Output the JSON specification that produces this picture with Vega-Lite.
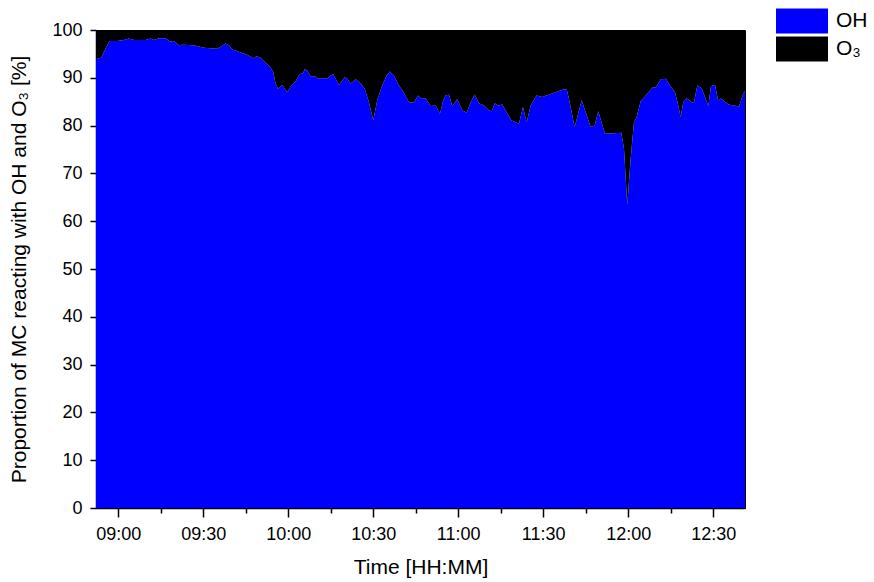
{
  "$schema": "https://vega.github.io/schema/vega-lite/v6.json",
  "width": 649,
  "height": 478,
  "autosize": {"type": "none"},
  "padding": {"left": 96, "top": 30, "right": 129, "bottom": 74},
  "background": "white",
  "config": {
    "view": {"stroke": "black", "strokeWidth": 1},
    "font": "Liberation Sans",
    "axis": {"labelFont": "Liberation Sans", "titleFont": "Liberation Sans", "titleFontWeight": "normal", "labelColor": "black", "titleColor": "black", "domainColor": "black", "tickColor": "black", "grid": false}
  },
  "data": {
    "values": [
      {"t": "2024-01-01T08:52:10", "OH": 94.0, "O3": 6.0},
      {"t": "2024-01-01T08:54:00", "OH": 94.2, "O3": 5.8},
      {"t": "2024-01-01T08:54:57", "OH": 95.4, "O3": 4.6},
      {"t": "2024-01-01T08:56:43", "OH": 97.5, "O3": 2.5},
      {"t": "2024-01-01T08:57:19", "OH": 97.7, "O3": 2.3},
      {"t": "2024-01-01T08:59:39", "OH": 97.7, "O3": 2.3},
      {"t": "2024-01-01T09:02:01", "OH": 97.9, "O3": 2.1},
      {"t": "2024-01-01T09:03:47", "OH": 98.2, "O3": 1.8},
      {"t": "2024-01-01T09:05:32", "OH": 97.9, "O3": 2.1},
      {"t": "2024-01-01T09:09:40", "OH": 97.9, "O3": 2.1},
      {"t": "2024-01-01T09:11:26", "OH": 98.2, "O3": 1.8},
      {"t": "2024-01-01T09:12:36", "OH": 97.9, "O3": 2.1},
      {"t": "2024-01-01T09:14:22", "OH": 98.3, "O3": 1.7},
      {"t": "2024-01-01T09:16:44", "OH": 98.3, "O3": 1.7},
      {"t": "2024-01-01T09:18:15", "OH": 97.6, "O3": 2.4},
      {"t": "2024-01-01T09:19:40", "OH": 97.7, "O3": 2.3},
      {"t": "2024-01-01T09:21:26", "OH": 96.8, "O3": 3.2},
      {"t": "2024-01-01T09:22:35", "OH": 96.9, "O3": 3.1},
      {"t": "2024-01-01T09:26:43", "OH": 96.8, "O3": 3.2},
      {"t": "2024-01-01T09:30:15", "OH": 96.3, "O3": 3.7},
      {"t": "2024-01-01T09:34:57", "OH": 96.1, "O3": 3.9},
      {"t": "2024-01-01T09:37:55", "OH": 97.2, "O3": 2.8},
      {"t": "2024-01-01T09:39:05", "OH": 96.8, "O3": 3.2},
      {"t": "2024-01-01T09:40:14", "OH": 95.9, "O3": 4.1},
      {"t": "2024-01-01T09:42:00", "OH": 95.6, "O3": 4.4},
      {"t": "2024-01-01T09:43:46", "OH": 95.2, "O3": 4.8},
      {"t": "2024-01-01T09:45:32", "OH": 94.8, "O3": 5.2},
      {"t": "2024-01-01T09:47:39", "OH": 94.1, "O3": 5.9},
      {"t": "2024-01-01T09:48:51", "OH": 94.5, "O3": 5.5},
      {"t": "2024-01-01T09:50:16", "OH": 94.2, "O3": 5.8},
      {"t": "2024-01-01T09:51:11", "OH": 93.6, "O3": 6.4},
      {"t": "2024-01-01T09:52:35", "OH": 92.9, "O3": 7.1},
      {"t": "2024-01-01T09:53:47", "OH": 92.1, "O3": 7.9},
      {"t": "2024-01-01T09:54:43", "OH": 91.2, "O3": 8.8},
      {"t": "2024-01-01T09:55:33", "OH": 88.8, "O3": 11.2},
      {"t": "2024-01-01T09:56:22", "OH": 87.7, "O3": 12.3},
      {"t": "2024-01-01T09:57:53", "OH": 88.5, "O3": 11.5},
      {"t": "2024-01-01T09:59:39", "OH": 87.0, "O3": 13.0},
      {"t": "2024-01-01T10:01:04", "OH": 88.4, "O3": 11.6},
      {"t": "2024-01-01T10:02:37", "OH": 89.2, "O3": 10.8},
      {"t": "2024-01-01T10:04:02", "OH": 90.8, "O3": 9.2},
      {"t": "2024-01-01T10:05:12", "OH": 90.9, "O3": 9.1},
      {"t": "2024-01-01T10:05:54", "OH": 91.9, "O3": 8.1},
      {"t": "2024-01-01T10:06:43", "OH": 91.5, "O3": 8.5},
      {"t": "2024-01-01T10:07:55", "OH": 90.3, "O3": 9.7},
      {"t": "2024-01-01T10:09:41", "OH": 90.3, "O3": 9.7},
      {"t": "2024-01-01T10:10:15", "OH": 89.9, "O3": 10.1},
      {"t": "2024-01-01T10:13:46", "OH": 89.9, "O3": 10.1},
      {"t": "2024-01-01T10:15:53", "OH": 90.8, "O3": 9.2},
      {"t": "2024-01-01T10:17:54", "OH": 88.5, "O3": 11.5},
      {"t": "2024-01-01T10:19:55", "OH": 90.1, "O3": 9.9},
      {"t": "2024-01-01T10:20:50", "OH": 89.8, "O3": 10.2},
      {"t": "2024-01-01T10:22:02", "OH": 88.8, "O3": 11.2},
      {"t": "2024-01-01T10:23:48", "OH": 89.7, "O3": 10.3},
      {"t": "2024-01-01T10:25:34", "OH": 88.8, "O3": 11.2},
      {"t": "2024-01-01T10:26:59", "OH": 87.7, "O3": 12.3},
      {"t": "2024-01-01T10:28:30", "OH": 84.9, "O3": 15.1},
      {"t": "2024-01-01T10:30:01", "OH": 81.1, "O3": 18.9},
      {"t": "2024-01-01T10:31:25", "OH": 85.3, "O3": 14.7},
      {"t": "2024-01-01T10:33:11", "OH": 88.4, "O3": 11.6},
      {"t": "2024-01-01T10:34:45", "OH": 90.5, "O3": 9.5},
      {"t": "2024-01-01T10:35:54", "OH": 91.3, "O3": 8.7},
      {"t": "2024-01-01T10:37:19", "OH": 90.5, "O3": 9.5},
      {"t": "2024-01-01T10:39:05", "OH": 88.4, "O3": 11.6},
      {"t": "2024-01-01T10:40:36", "OH": 87.1, "O3": 12.9},
      {"t": "2024-01-01T10:42:37", "OH": 84.9, "O3": 15.1},
      {"t": "2024-01-01T10:44:23", "OH": 84.8, "O3": 15.2},
      {"t": "2024-01-01T10:45:47", "OH": 86.3, "O3": 13.7},
      {"t": "2024-01-01T10:46:57", "OH": 85.7, "O3": 14.3},
      {"t": "2024-01-01T10:48:30", "OH": 85.7, "O3": 14.3},
      {"t": "2024-01-01T10:50:16", "OH": 84.1, "O3": 15.9},
      {"t": "2024-01-01T10:52:02", "OH": 84.2, "O3": 15.8},
      {"t": "2024-01-01T10:53:33", "OH": 82.5, "O3": 17.5},
      {"t": "2024-01-01T10:54:43", "OH": 85.3, "O3": 14.7},
      {"t": "2024-01-01T10:55:34", "OH": 86.3, "O3": 13.7},
      {"t": "2024-01-01T10:56:44", "OH": 86.5, "O3": 13.5},
      {"t": "2024-01-01T10:57:54", "OH": 84.1, "O3": 15.9},
      {"t": "2024-01-01T10:59:40", "OH": 85.5, "O3": 14.5},
      {"t": "2024-01-01T11:01:26", "OH": 83.2, "O3": 16.8},
      {"t": "2024-01-01T11:02:59", "OH": 82.7, "O3": 17.3},
      {"t": "2024-01-01T11:04:24", "OH": 84.9, "O3": 15.1},
      {"t": "2024-01-01T11:05:48", "OH": 86.5, "O3": 13.5},
      {"t": "2024-01-01T11:07:19", "OH": 84.7, "O3": 15.3},
      {"t": "2024-01-01T11:09:05", "OH": 84.2, "O3": 15.8},
      {"t": "2024-01-01T11:10:51", "OH": 83.2, "O3": 16.8},
      {"t": "2024-01-01T11:11:48", "OH": 83.0, "O3": 17.0},
      {"t": "2024-01-01T11:12:52", "OH": 84.7, "O3": 15.3},
      {"t": "2024-01-01T11:14:02", "OH": 84.2, "O3": 15.8},
      {"t": "2024-01-01T11:15:33", "OH": 84.4, "O3": 15.6},
      {"t": "2024-01-01T11:17:06", "OH": 82.8, "O3": 17.2},
      {"t": "2024-01-01T11:18:43", "OH": 81.1, "O3": 18.9},
      {"t": "2024-01-01T11:21:26", "OH": 80.4, "O3": 19.6},
      {"t": "2024-01-01T11:22:51", "OH": 83.9, "O3": 16.1},
      {"t": "2024-01-01T11:24:10", "OH": 80.7, "O3": 19.3},
      {"t": "2024-01-01T11:25:34", "OH": 84.2, "O3": 15.8},
      {"t": "2024-01-01T11:27:20", "OH": 86.0, "O3": 14.0},
      {"t": "2024-01-01T11:27:41", "OH": 86.3, "O3": 13.7},
      {"t": "2024-01-01T11:29:40", "OH": 86.0, "O3": 14.0},
      {"t": "2024-01-01T11:37:19", "OH": 87.6, "O3": 12.4},
      {"t": "2024-01-01T11:38:17", "OH": 87.6, "O3": 12.4},
      {"t": "2024-01-01T11:39:05", "OH": 85.6, "O3": 14.4},
      {"t": "2024-01-01T11:41:06", "OH": 79.7, "O3": 20.3},
      {"t": "2024-01-01T11:43:34", "OH": 85.3, "O3": 14.7},
      {"t": "2024-01-01T11:46:45", "OH": 79.7, "O3": 20.3},
      {"t": "2024-01-01T11:48:10", "OH": 80.0, "O3": 20.0},
      {"t": "2024-01-01T11:49:26", "OH": 83.0, "O3": 17.0},
      {"t": "2024-01-01T11:51:48", "OH": 78.3, "O3": 21.7},
      {"t": "2024-01-01T11:57:33", "OH": 78.5, "O3": 21.5},
      {"t": "2024-01-01T11:58:30", "OH": 75.2, "O3": 24.8},
      {"t": "2024-01-01T11:59:40", "OH": 63.5, "O3": 36.5},
      {"t": "2024-01-01T12:00:52", "OH": 73.1, "O3": 26.9},
      {"t": "2024-01-01T12:02:02", "OH": 80.7, "O3": 19.3},
      {"t": "2024-01-01T12:02:59", "OH": 81.8, "O3": 18.2},
      {"t": "2024-01-01T12:04:24", "OH": 85.1, "O3": 14.9},
      {"t": "2024-01-01T12:06:10", "OH": 86.3, "O3": 13.7},
      {"t": "2024-01-01T12:08:38", "OH": 88.0, "O3": 12.0},
      {"t": "2024-01-01T12:09:48", "OH": 88.0, "O3": 12.0},
      {"t": "2024-01-01T12:11:28", "OH": 89.7, "O3": 10.3},
      {"t": "2024-01-01T12:13:20", "OH": 89.8, "O3": 10.2},
      {"t": "2024-01-01T12:14:44", "OH": 88.4, "O3": 11.6},
      {"t": "2024-01-01T12:16:31", "OH": 87.0, "O3": 13.0},
      {"t": "2024-01-01T12:17:40", "OH": 84.2, "O3": 15.8},
      {"t": "2024-01-01T12:18:31", "OH": 81.8, "O3": 18.2},
      {"t": "2024-01-01T12:19:26", "OH": 84.9, "O3": 15.1},
      {"t": "2024-01-01T12:20:38", "OH": 85.7, "O3": 14.3},
      {"t": "2024-01-01T12:22:24", "OH": 84.9, "O3": 15.1},
      {"t": "2024-01-01T12:23:13", "OH": 84.9, "O3": 15.1},
      {"t": "2024-01-01T12:24:23", "OH": 88.4, "O3": 11.6},
      {"t": "2024-01-01T12:25:56", "OH": 87.8, "O3": 12.2},
      {"t": "2024-01-01T12:27:06", "OH": 86.0, "O3": 14.0},
      {"t": "2024-01-01T12:28:16", "OH": 84.1, "O3": 15.9},
      {"t": "2024-01-01T12:29:13", "OH": 88.3, "O3": 11.7},
      {"t": "2024-01-01T12:30:38", "OH": 88.5, "O3": 11.5},
      {"t": "2024-01-01T12:31:47", "OH": 85.1, "O3": 14.9},
      {"t": "2024-01-01T12:32:38", "OH": 85.7, "O3": 14.3},
      {"t": "2024-01-01T12:35:19", "OH": 84.4, "O3": 15.6},
      {"t": "2024-01-01T12:37:26", "OH": 84.2, "O3": 15.8},
      {"t": "2024-01-01T12:39:06", "OH": 84.0, "O3": 16.0},
      {"t": "2024-01-01T12:40:37", "OH": 86.7, "O3": 13.3},
      {"t": "2024-01-01T12:41:13", "OH": 87.2, "O3": 12.8}
    ]
  },
  "transform": [{"fold": ["OH", "O3"], "as": ["species", "value"]}],
  "mark": {"type": "area", "interpolate": "linear", "strokeWidth": 0},
  "encoding": {
    "x": {
      "field": "t",
      "type": "temporal",
      "scale": {"domain": [{"year": 2024, "month": 1, "date": 1, "hours": 8, "minutes": 52, "seconds": 10}, {"year": 2024, "month": 1, "date": 1, "hours": 12, "minutes": 41, "seconds": 13}], "nice": false},
      "axis": {
        "title": "Time [HH:MM]",
        "titleFontSize": 21,
        "titlePadding": 13,
        "labelFontSize": 18,
        "labelPadding": 8,
        "labelFlush": false,
        "labelOverlap": false,
        "values": [
          {"year": 2024, "month": 1, "date": 1, "hours": 9, "minutes": 0},
          {"year": 2024, "month": 1, "date": 1, "hours": 9, "minutes": 15},
          {"year": 2024, "month": 1, "date": 1, "hours": 9, "minutes": 30},
          {"year": 2024, "month": 1, "date": 1, "hours": 9, "minutes": 45},
          {"year": 2024, "month": 1, "date": 1, "hours": 10, "minutes": 0},
          {"year": 2024, "month": 1, "date": 1, "hours": 10, "minutes": 15},
          {"year": 2024, "month": 1, "date": 1, "hours": 10, "minutes": 30},
          {"year": 2024, "month": 1, "date": 1, "hours": 10, "minutes": 45},
          {"year": 2024, "month": 1, "date": 1, "hours": 11, "minutes": 0},
          {"year": 2024, "month": 1, "date": 1, "hours": 11, "minutes": 15},
          {"year": 2024, "month": 1, "date": 1, "hours": 11, "minutes": 30},
          {"year": 2024, "month": 1, "date": 1, "hours": 11, "minutes": 45},
          {"year": 2024, "month": 1, "date": 1, "hours": 12, "minutes": 0},
          {"year": 2024, "month": 1, "date": 1, "hours": 12, "minutes": 15},
          {"year": 2024, "month": 1, "date": 1, "hours": 12, "minutes": 30}
        ],
        "labelExpr": "minutes(datum.value) % 30 == 0 ? timeFormat(datum.value, '%H:%M') : ''",
        "tickSize": {"condition": {"test": "minutes(datum.value) % 30 == 0", "value": 9}, "value": 5},
        "tickWidth": 1.5,
        "domainWidth": 1.5
      }
    },
    "y": {
      "field": "value",
      "type": "quantitative",
      "stack": "zero",
      "scale": {"domain": [0, 100], "nice": false},
      "axis": {
        "title": "Proportion of MC reacting with OH and O₃ [%]",
        "titleFontSize": 21,
        "titlePadding": 22,
        "labelFontSize": 18,
        "labelPadding": 8,
        "values": [0, 10, 20, 30, 40, 50, 60, 70, 80, 90, 100],
        "tickSize": 6,
        "tickWidth": 1.5,
        "domainWidth": 1.5
      }
    },
    "color": {
      "field": "species",
      "type": "nominal",
      "scale": {"domain": ["OH", "O3"], "range": ["#0000ff", "#000000"]},
      "legend": {
        "title": null,
        "orient": "none",
        "legendX": 693,
        "legendY": -22,
        "symbolType": "M-2,-0.96H2V0.96H-2Z",
        "symbolSize": 676,
        "symbolStrokeWidth": 0,
        "symbolOpacity": 1,
        "labelFont": "Liberation Sans",
        "labelFontSize": 21,
        "labelColor": "black",
        "labelOffset": 21,
        "rowPadding": 2,
        "labelExpr": "datum.label == 'O3' ? 'O₃' : datum.label"
      }
    },
    "order": {"field": "species", "sort": "descending"}
  }
}
